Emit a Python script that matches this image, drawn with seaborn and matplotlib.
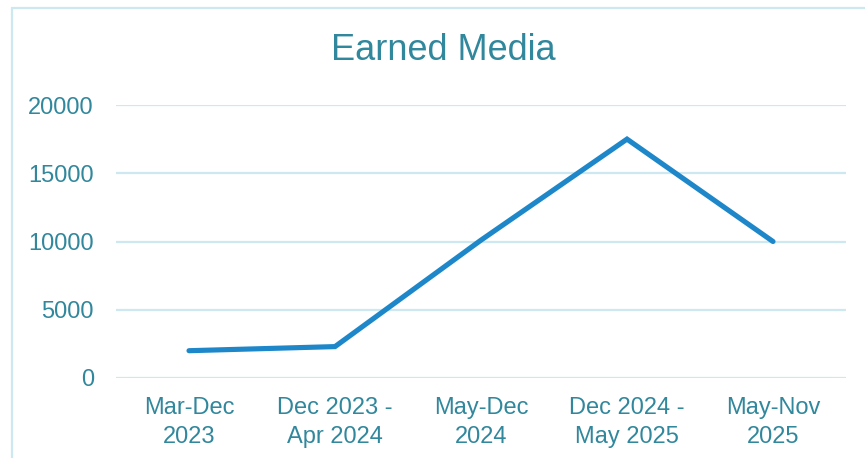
import matplotlib
matplotlib.use("Agg")
import matplotlib.pyplot as plt
import seaborn as sns
import pandas as pd
from matplotlib.patches import Rectangle

# data
periods = ["Mar-Dec\n2023", "Dec 2023 -\nApr 2024", "May-Dec\n2024",
           "Dec 2024 -\nMay 2025", "May-Nov\n2025"]
earned = [2000, 2300, 10100, 17500, 10000]
y_ticks = [0, 5000, 10000, 15000, 20000]

df = pd.DataFrame({"period": periods, "earned": earned})

sns.set_style("white")
plt.rcParams["font.family"] = ["Liberation Sans", "DejaVu Sans"]

text_col = "#31879c"
grid_col = "#cde8f0"
line_col = "#1d87c9"

fig = plt.figure(figsize=(8.65, 4.58), dpi=100)
ax = fig.add_axes([116 / 865, 1 - 378 / 458, 730 / 865, 273 / 458])

# light frame around the whole chart (cropped at right/bottom like the source)
fig.patches.append(Rectangle((11.5 / 865, -0.05), 1.0, 1 - 8.5 / 458 + 0.05,
                             transform=fig.transFigure, fill=False,
                             edgecolor=grid_col, linewidth=1.6))

sns.lineplot(data=df, x="period", y="earned", ax=ax, sort=False,
             color=line_col, linewidth=3.7, solid_capstyle="round",
             solid_joinstyle="miter")

ax.set_xlim(-0.5, len(periods) - 0.5)
ax.set_ylim(0, 20000)
ax.set_yticks(y_ticks)
ax.set_yticklabels([str(v) for v in y_ticks])
for v in y_ticks:
    ax.axhline(v, color=grid_col, linewidth=1.6, zorder=0)

for s in ax.spines.values():
    s.set_visible(False)
ax.tick_params(axis="both", length=0, colors=text_col, labelsize=17)
ax.tick_params(axis="y", pad=16)
ax.tick_params(axis="x", pad=14)
for lab in ax.get_xticklabels():
    lab.set_linespacing(1.4)
ax.set_xlabel("")
ax.set_ylabel("")

fig.text(443 / 865, 1 - 50 / 458, "Earned Media", ha="center", va="center",
         fontsize=26, color=text_col)

fig.savefig("out.png", dpi=100)
